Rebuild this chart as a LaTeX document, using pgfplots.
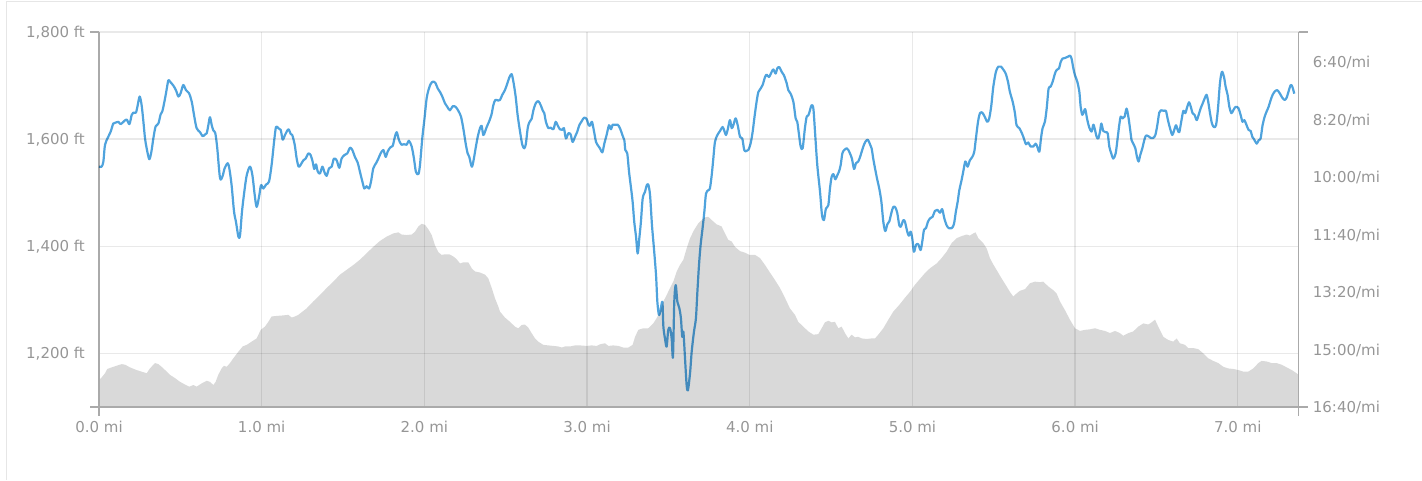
\documentclass[border=0pt]{standalone}
\usepackage{fontspec}
\setmainfont{DejaVu Sans}
\usepackage{pgfplots}
\pgfplotsset{compat=1.18}

\definecolor{areagray}{RGB}{217,217,217}
\definecolor{paceblue}{RGB}{79,163,221}
\definecolor{axisgray}{RGB}{170,170,170}
\definecolor{labelgray}{RGB}{150,150,150}
\definecolor{cardgray}{RGB}{230,230,230}

\pgfplotsset{
  runchart/.style={
    scale only axis, width=1199.7pt, height=375pt,
    xmin=0, xmax=7.374,
    major tick length=0pt, tick style={draw=none},
    axis line style={axisgray, line width=1.2pt, -},
    tick label style={font=\fontsize{15}{18}\selectfont, text=labelgray},
  }
}

\begin{document}
\begin{tikzpicture}
% elevation (ft)
\begin{axis}[runchart,
  ymin=1100, ymax=1800,
  axis x line*=bottom, axis y line*=left,
  axis on top,
  xtick={0,1,2,3,4,5,6,7},
  xticklabels={0.0 mi,1.0 mi,2.0 mi,3.0 mi,4.0 mi,5.0 mi,6.0 mi,7.0 mi},
  ytick={1200,1400,1600,1800},
  yticklabels={{1,200 ft},{1,400 ft},{1,600 ft},{1,800 ft}},
  grid=major,
  grid style={black, opacity=0.085, line width=1.3pt},
  xticklabel style={anchor=north, inner sep=0pt, yshift=-14pt},
  yticklabel style={anchor=base east, inner sep=0pt, xshift=-14pt, yshift=-5.5pt},
]
\addplot[fill=areagray, draw=none] table {
0.000 1150
0.016 1155
0.037 1163
0.051 1171
0.078 1174
0.108 1177
0.139 1180
0.160 1179
0.190 1174
0.231 1169
0.262 1166
0.293 1163
0.313 1172
0.344 1182
0.365 1180
0.385 1175
0.406 1169
0.436 1160
0.467 1154
0.498 1147
0.528 1142
0.555 1138
0.580 1141
0.600 1138
0.631 1144
0.662 1149
0.682 1147
0.703 1141
0.717 1147
0.733 1160
0.754 1172
0.768 1177
0.785 1175
0.805 1182
0.826 1191
0.856 1203
0.883 1213
0.908 1216
0.938 1222
0.969 1228
0.994 1244
1.020 1250
1.041 1259
1.061 1269
1.092 1270
1.133 1271
1.164 1272
1.184 1267
1.205 1269
1.225 1272
1.276 1284
1.317 1297
1.358 1309
1.399 1322
1.440 1334
1.481 1347
1.522 1356
1.563 1365
1.604 1375
1.645 1387
1.686 1399
1.727 1410
1.768 1418
1.809 1424
1.840 1426
1.860 1422
1.891 1421
1.922 1422
1.942 1427
1.963 1437
1.983 1442
2.004 1440
2.024 1432
2.045 1421
2.065 1402
2.086 1389
2.106 1384
2.127 1385
2.153 1385
2.178 1381
2.198 1376
2.219 1368
2.239 1370
2.270 1370
2.291 1359
2.311 1353
2.342 1351
2.373 1347
2.393 1340
2.414 1322
2.434 1303
2.455 1287
2.465 1278
2.495 1267
2.526 1259
2.557 1250
2.577 1247
2.598 1253
2.618 1254
2.639 1248
2.659 1238
2.680 1228
2.700 1222
2.731 1216
2.762 1215
2.793 1214
2.823 1213
2.844 1211
2.864 1213
2.895 1213
2.926 1215
2.956 1215
2.997 1214
3.028 1215
3.059 1214
3.079 1217
3.110 1219
3.131 1214
3.161 1215
3.192 1214
3.223 1211
3.254 1211
3.280 1216
3.295 1231
3.315 1244
3.346 1247
3.376 1247
3.407 1256
3.428 1266
3.448 1278
3.469 1297
3.489 1309
3.510 1322
3.530 1334
3.551 1353
3.571 1365
3.592 1375
3.612 1396
3.633 1415
3.657 1430
3.684 1443
3.694 1446
3.725 1454
3.745 1455
3.766 1449
3.796 1441
3.827 1437
3.848 1424
3.868 1412
3.889 1409
3.909 1399
3.940 1391
3.971 1388
3.997 1384
4.032 1384
4.063 1378
4.094 1365
4.124 1351
4.155 1337
4.186 1322
4.216 1304
4.247 1284
4.278 1272
4.298 1259
4.329 1250
4.360 1241
4.391 1235
4.421 1236
4.442 1247
4.462 1258
4.483 1261
4.503 1258
4.524 1259
4.544 1247
4.565 1250
4.585 1238
4.606 1228
4.626 1235
4.647 1230
4.667 1231
4.688 1228
4.719 1227
4.749 1228
4.770 1228
4.790 1235
4.821 1247
4.852 1263
4.882 1278
4.923 1292
4.954 1304
4.985 1315
5.015 1328
5.046 1339
5.077 1350
5.108 1359
5.149 1368
5.179 1378
5.210 1390
5.241 1406
5.271 1415
5.302 1419
5.333 1422
5.353 1420
5.374 1424
5.388 1426
5.405 1415
5.435 1406
5.456 1396
5.476 1378
5.497 1366
5.517 1356
5.548 1340
5.579 1325
5.599 1315
5.620 1306
5.640 1312
5.661 1317
5.692 1320
5.722 1331
5.753 1334
5.784 1333
5.804 1334
5.835 1325
5.866 1318
5.886 1312
5.907 1297
5.937 1281
5.968 1263
5.999 1247
6.030 1242
6.060 1244
6.091 1245
6.122 1247
6.153 1244
6.183 1242
6.214 1238
6.245 1242
6.275 1238
6.296 1233
6.327 1238
6.357 1241
6.388 1250
6.419 1256
6.450 1254
6.470 1258
6.491 1263
6.511 1250
6.542 1231
6.573 1225
6.603 1222
6.624 1228
6.644 1219
6.675 1216
6.695 1210
6.726 1210
6.757 1208
6.788 1200
6.818 1191
6.849 1186
6.880 1182
6.911 1175
6.941 1172
6.972 1171
7.003 1169
7.034 1166
7.064 1166
7.095 1172
7.126 1182
7.146 1186
7.177 1185
7.207 1182
7.238 1182
7.269 1179
7.300 1174
7.331 1169
7.361 1163
7.374 1160
} \closedcycle;
\coordinate (O) at (rel axis cs:0,0);
\coordinate (TR) at (rel axis cs:1,1);
\end{axis}

% pace (seconds per mile), reversed
\begin{axis}[runchart,
  ymin=347.8, ymax=1000, y dir=reverse,
  axis x line=none, axis y line*=right,
  xtick=\empty,
  ytick={400,500,600,700,800,900,1000},
  yticklabels={6:40/mi,8:20/mi,10:00/mi,11:40/mi,13:20/mi,15:00/mi,16:40/mi},
  yticklabel style={anchor=base west, inner sep=0pt, xshift=14pt, yshift=-5.5pt},
]
\addplot[paceblue, line width=2.2pt, smooth, tension=0.5, line join=round, blend mode=multiply] table {
0.000 582
0.016 582
0.027 573
0.037 544
0.057 530
0.072 521
0.088 507
0.105 505
0.119 504
0.133 508
0.150 504
0.170 500
0.187 508
0.201 492
0.211 488
0.227 488
0.238 475
0.250 460
0.262 475
0.273 504
0.283 533
0.293 550
0.309 569
0.322 556
0.334 533
0.348 512
0.365 507
0.379 491
0.389 486
0.400 472
0.412 454
0.426 432
0.436 434
0.457 441
0.473 449
0.488 460
0.502 454
0.518 440
0.535 449
0.553 454
0.570 469
0.584 492
0.600 515
0.621 522
0.637 529
0.652 526
0.662 524
0.672 510
0.682 496
0.693 510
0.703 519
0.715 524
0.727 550
0.744 602
0.760 598
0.772 585
0.791 576
0.801 585
0.815 614
0.830 660
0.842 678
0.857 704
0.867 701
0.879 660
0.893 626
0.908 597
0.928 582
0.943 597
0.957 631
0.969 652
0.984 634
0.996 614
1.010 620
1.027 613
1.045 608
1.061 579
1.076 539
1.088 513
1.102 515
1.117 518
1.129 535
1.143 527
1.164 517
1.178 525
1.188 527
1.203 544
1.215 568
1.227 582
1.239 579
1.256 571
1.270 568
1.287 559
1.301 562
1.313 573
1.323 586
1.334 578
1.344 590
1.358 594
1.373 582
1.385 591
1.399 598
1.414 585
1.430 582
1.444 568
1.461 571
1.477 584
1.491 568
1.508 562
1.526 559
1.543 549
1.557 553
1.573 565
1.590 575
1.604 591
1.619 608
1.631 620
1.645 616
1.660 620
1.672 608
1.686 585
1.703 576
1.717 568
1.731 559
1.748 553
1.762 565
1.774 556
1.789 549
1.805 546
1.819 530
1.830 522
1.844 536
1.860 544
1.875 543
1.891 544
1.905 537
1.922 547
1.936 568
1.948 591
1.963 595
1.973 579
1.987 533
2.002 495
2.014 463
2.028 446
2.041 437
2.055 434
2.069 437
2.082 446
2.096 452
2.110 460
2.127 472
2.141 478
2.157 484
2.174 477
2.192 478
2.209 485
2.225 495
2.239 515
2.254 542
2.266 559
2.276 565
2.291 582
2.301 573
2.315 550
2.328 530
2.342 515
2.352 511
2.362 527
2.373 521
2.383 513
2.397 504
2.412 492
2.424 475
2.436 466
2.454 467
2.465 466
2.479 457
2.495 449
2.510 437
2.522 427
2.536 421
2.547 434
2.561 460
2.573 492
2.588 521
2.602 544
2.614 550
2.624 542
2.635 515
2.645 505
2.659 499
2.670 484
2.684 472
2.700 468
2.715 475
2.727 484
2.737 489
2.747 504
2.762 515
2.776 514
2.793 517
2.807 504
2.819 510
2.833 517
2.848 518
2.858 515
2.870 533
2.885 524
2.899 526
2.911 539
2.926 530
2.940 521
2.952 510
2.967 503
2.981 497
2.997 499
3.010 510
3.018 511
3.030 504
3.043 521
3.055 539
3.069 546
3.079 550
3.094 557
3.106 542
3.120 527
3.135 510
3.147 517
3.157 509
3.172 509
3.188 509
3.202 515
3.217 527
3.229 536
3.235 553
3.247 559
3.258 591
3.268 614
3.280 643
3.290 678
3.301 704
3.311 733
3.321 707
3.331 678
3.342 637
3.356 626
3.366 615
3.376 613
3.387 631
3.399 684
3.411 724
3.424 771
3.432 817
3.442 840
3.452 831
3.463 817
3.469 860
3.479 881
3.489 895
3.499 866
3.510 863
3.520 881
3.528 913
3.536 817
3.545 788
3.555 817
3.567 828
3.577 846
3.585 878
3.592 869
3.602 915
3.612 962
3.620 971
3.633 941
3.643 904
3.657 869
3.669 846
3.678 800
3.688 753
3.698 718
3.710 689
3.721 660
3.731 629
3.745 623
3.755 620
3.766 597
3.776 568
3.786 539
3.801 527
3.817 520
3.833 513
3.844 520
3.854 527
3.864 518
3.878 501
3.889 515
3.899 510
3.913 498
3.926 510
3.940 530
3.954 533
3.966 553
3.977 555
3.991 553
4.005 542
4.018 521
4.028 498
4.042 469
4.053 452
4.067 446
4.079 440
4.094 426
4.104 422
4.118 426
4.135 417
4.145 413
4.159 420
4.169 411
4.182 409
4.196 417
4.210 423
4.227 437
4.237 449
4.251 455
4.268 469
4.282 498
4.292 504
4.303 527
4.313 547
4.325 550
4.339 515
4.350 495
4.360 493
4.370 484
4.380 475
4.391 481
4.401 521
4.415 579
4.432 626
4.444 666
4.456 675
4.468 655
4.483 649
4.493 620
4.503 600
4.514 595
4.526 604
4.538 597
4.548 591
4.559 579
4.569 559
4.581 553
4.596 550
4.606 553
4.616 559
4.628 568
4.641 586
4.653 576
4.667 573
4.678 565
4.688 556
4.698 547
4.710 539
4.725 535
4.739 543
4.749 550
4.759 568
4.770 585
4.784 605
4.796 620
4.809 643
4.821 678
4.833 694
4.846 682
4.858 677
4.870 663
4.882 652
4.895 653
4.907 663
4.919 684
4.929 686
4.944 675
4.954 678
4.968 695
4.978 702
4.989 695
4.999 707
5.009 730
5.022 718
5.036 717
5.050 727
5.060 713
5.071 692
5.083 689
5.095 678
5.108 672
5.124 669
5.138 659
5.153 657
5.169 662
5.183 656
5.196 672
5.210 684
5.224 689
5.241 689
5.255 682
5.267 660
5.278 643
5.288 623
5.300 608
5.312 591
5.325 573
5.339 582
5.353 571
5.368 565
5.380 556
5.390 533
5.403 504
5.415 489
5.429 488
5.444 495
5.460 504
5.472 498
5.485 475
5.497 443
5.513 417
5.528 408
5.544 408
5.558 413
5.573 420
5.587 434
5.599 452
5.616 469
5.630 489
5.640 510
5.657 515
5.673 524
5.685 533
5.698 543
5.712 540
5.726 547
5.743 547
5.757 542
5.767 547
5.780 556
5.790 533
5.800 515
5.814 504
5.825 481
5.837 446
5.849 443
5.862 434
5.876 420
5.886 414
5.901 411
5.911 400
5.923 394
5.937 393
5.954 391
5.968 389
5.978 394
5.989 411
5.999 423
6.013 434
6.026 452
6.034 478
6.044 492
6.054 486
6.062 482
6.075 501
6.087 514
6.101 521
6.112 509
6.122 518
6.132 530
6.142 533
6.153 521
6.161 507
6.173 520
6.187 522
6.200 524
6.210 547
6.222 559
6.234 568
6.249 559
6.261 533
6.271 510
6.280 495
6.292 498
6.304 495
6.316 481
6.327 495
6.337 515
6.347 536
6.357 542
6.370 550
6.380 565
6.390 573
6.400 562
6.413 550
6.425 536
6.435 528
6.450 529
6.464 532
6.480 532
6.493 527
6.505 510
6.517 488
6.527 484
6.546 485
6.558 485
6.568 498
6.583 515
6.597 527
6.607 520
6.620 510
6.630 518
6.640 522
6.652 504
6.665 485
6.677 489
6.689 478
6.700 470
6.710 477
6.722 489
6.734 492
6.747 501
6.759 492
6.771 481
6.784 472
6.798 462
6.808 457
6.818 469
6.829 489
6.841 507
6.853 513
6.866 510
6.878 481
6.890 437
6.902 417
6.915 426
6.925 443
6.937 457
6.948 478
6.960 489
6.972 484
6.986 478
7.003 480
7.017 492
7.029 504
7.040 501
7.054 510
7.066 518
7.079 520
7.089 530
7.101 535
7.116 542
7.128 536
7.140 533
7.152 510
7.165 495
7.177 486
7.189 478
7.202 466
7.214 457
7.228 451
7.243 449
7.259 455
7.273 462
7.288 466
7.300 462
7.312 451
7.325 440
7.335 443
7.347 455
};
\end{axis}

% end caps of the axis lines
\begin{scope}[axisgray, line width=1.2pt]
  \draw (O |- TR) -- ++(-9pt,0);
  \draw (O) -- ++(-9pt,0);
  \draw (O) -- ++(0,-9pt);
  \draw (O -| TR) -- ++(9pt,0);
  \draw (O -| TR) -- ++(0,-9pt);
  \draw (TR) -- ++(9pt,0);
\end{scope}
% card edge
\draw[cardgray, line width=1pt] (O) ++(-92pt,-73pt) -- ++(0,478pt) -- ++(1415pt,0);
\pgfresetboundingbox
\path[use as bounding box] (O) ++(-99pt,-73pt) rectangle ++(1422pt,480pt);
\end{tikzpicture}
\end{document}
